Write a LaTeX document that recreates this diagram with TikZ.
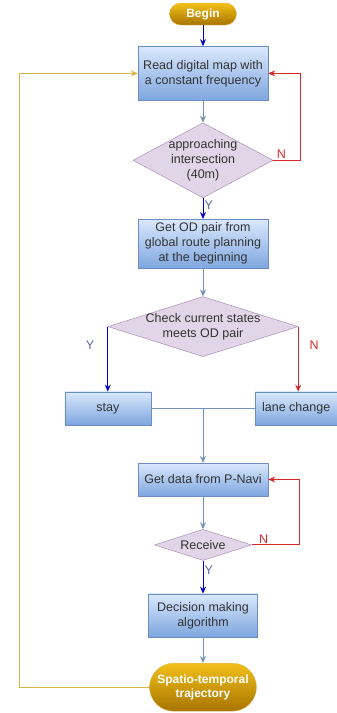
\documentclass[tikz,border=0pt]{standalone}
\usepackage{fontspec}
\setmainfont{Liberation Sans}
\usepackage{tikz}
\usetikzlibrary{positioning,calc,shapes.geometric,arrows.meta}
\definecolor{boxtop}{RGB}{218,232,252}
\definecolor{boxbot}{RGB}{126,166,224}
\definecolor{boxline}{RGB}{108,142,191}
\definecolor{lilac}{RGB}{225,213,231}
\definecolor{lilacline}{RGB}{160,130,175}
\definecolor{goldtop}{RGB}{242,192,24}
\definecolor{goldbot}{RGB}{168,116,0}
\definecolor{goldline}{RGB}{222,190,100}
\definecolor{flowgray}{RGB}{112,148,186}
\definecolor{yesblue}{RGB}{0,0,204}
\definecolor{nored}{RGB}{214,40,40}
\definecolor{loopyellow}{RGB}{210,182,70}
\definecolor{ytext}{RGB}{90,100,170}

\begin{document}
\begin{tikzpicture}[
  x=1pt,y=1pt,
  font=\fontsize{12.5}{15}\selectfont,
  proc/.style={rectangle,draw=boxline,top color=boxtop,bottom color=boxbot,
    minimum width=130pt,inner sep=0pt,align=center,text=black!80},
  decision/.style={diamond,draw=lilacline,fill=lilac,inner sep=0pt},
  dtext/.style={align=center,text=black!80},
  terminal/.style={rectangle,draw=goldline,top color=goldtop,bottom color=goldbot,
    inner sep=0pt,align=center,text=white,font=\fontsize{12}{14}\selectfont\bfseries},
  flow/.style={flowgray,line width=1pt,-{Stealth[length=7pt,width=6pt]}},
  yesline/.style={flow,yesblue},
  noline/.style={flow,nored},
  backline/.style={flow,loopyellow},
  ylbl/.style={text=ytext,inner sep=1pt},
  nlbl/.style={text=nored,inner sep=1pt}
]
\useasboundingbox (0,0) rectangle (337,-713);
\node[terminal,minimum width=67pt,minimum height=22pt,rounded corners=11pt] (begin) at (203,-14) {Begin};
\node[proc,minimum height=54pt,below=21pt of begin] (read) {Read digital map with\\a constant frequency};
\node[decision,minimum width=140pt,minimum height=75pt,below=22pt of read,
  label={[dtext]center:approaching\\intersection\\(40m)}] (dec1) {};
\node[proc,minimum height=49pt,below=21pt of dec1] (od) {Get OD pair from\\global route planning\\at the beginning};
\node[decision,minimum width=190pt,minimum height=60pt,below=28pt of od,
  label={[dtext]center:Check current states\\meets OD pair}] (dec2) {};
\node[proc,minimum width=86pt,minimum height=33pt,below=65pt of dec2.west] (stay) {stay};
\node[proc,minimum width=82pt,minimum height=33pt,below=65pt of dec2.east,xshift=-2pt] (lane) {lane change};
\coordinate (merge) at (dec2 |- stay);
\node[proc,minimum height=33pt,below=106pt of dec2] (data) {Get data from P-Navi};
\node[decision,minimum width=97pt,minimum height=31pt,below=33pt of data,
  label={[dtext]center:Receive}] (recv) {};
\node[proc,minimum width=109pt,minimum height=43pt,below=33pt of recv] (decide) {Decision making\\algorithm};
\node[terminal,minimum width=107pt,minimum height=48pt,rounded corners=24pt,below=26pt of decide] (spatio) {Spatio-temporal\\trajectory};

\draw[yesline] (begin) -- (read);
\draw[flow] (read) -- (dec1);
\draw[noline] (dec1.east) -- node[nlbl,above,pos=0.3]{N} ++(27,0) |- (read.east);
\draw[yesline] (dec1) -- node[ylbl,right,pos=0.35]{Y} (od);
\draw[flow] (od) -- (dec2);
\draw[yesline] (dec2.west) -- node[ylbl,left=12pt,pos=0.28]{Y} (stay.north);
\draw[noline] (dec2.east) -- node[nlbl,right=10pt,pos=0.28]{N} (lane.north -| dec2.east);
\draw[flowgray,line width=1pt] (stay.east) -- (lane.west);
\draw[flow] (merge) -- (data);
\draw[flow] (data) -- (recv);
\draw[noline] (recv.east) -- node[nlbl,above,pos=0.25]{N} ++(48,0) |- (data.east);
\draw[yesline] (recv) -- node[ylbl,right,pos=0.3]{Y} (decide);
\draw[flow] (decide) -- (spatio);
\draw[backline] (spatio.west) -- ++(-129.5,0) |- (read.west);
\end{tikzpicture}
\end{document}
